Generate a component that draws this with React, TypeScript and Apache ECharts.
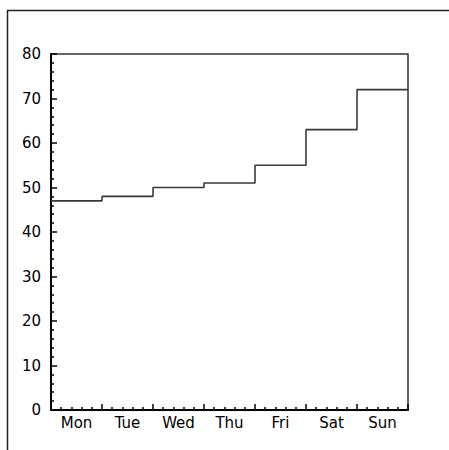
import React, { useEffect, useRef } from "react";
import * as echarts from "echarts";

const categories = ["Mon", "Tue", "Wed", "Thu", "Fri", "Sat", "Sun"];
const values = [47, 48, 50, 51, 55, 63, 72];
const yMin = 0;
const yMax = 80;
const yStep = 10;

export default function App() {
  const ref = useRef<HTMLDivElement>(null);
  useEffect(() => {
    if (!ref.current) return;
    const chart = echarts.init(ref.current, null, { renderer: "svg" });
    const stepData: [number, number][] = values.map((v, i) => [i, v]);
    stepData.push([values.length, values[values.length - 1]]);
    const font = "DejaVu Sans";
    chart.setOption({
      animation: false,
      backgroundColor: "#ffffff",
      grid: {
        left: 51,
        right: 41,
        top: 54,
        bottom: 40,
        show: true,
        borderColor: "#333",
        borderWidth: 1.5,
        backgroundColor: "transparent",
      },
      graphic: [
        {
          type: "line",
          shape: { x1: 7.5, y1: 10, x2: 7.5, y2: 450 },
          style: { stroke: "#222", lineWidth: 1.5 },
        },
        {
          type: "line",
          shape: { x1: 7, y1: 10.5, x2: 449, y2: 10.5 },
          style: { stroke: "#222", lineWidth: 1.5 },
        },
      ],
      xAxis: [
        {
          type: "category",
          data: categories,
          boundaryGap: true,
          position: "bottom",
          axisLine: { show: true, lineStyle: { color: "#000", width: 2 } },
          axisTick: { show: false },
          axisLabel: {
            color: "#000",
            fontFamily: font,
            fontSize: 15,
            margin: 5,
          },
          splitLine: { show: false },
        },
        {
          type: "value",
          min: 0,
          max: categories.length,
          interval: 1,
          position: "bottom",
          axisLine: { show: false },
          axisLabel: { show: false },
          axisTick: { show: true, inside: true, length: 6, lineStyle: { color: "#000", width: 1.5 } },
          minorTick: { show: true, splitNumber: 5, length: 3, lineStyle: { color: "#000", width: 1.5 } },
          splitLine: { show: false },
          minorSplitLine: { show: false },
        },
      ],
      yAxis: {
        type: "value",
        min: yMin,
        max: yMax,
        interval: yStep,
        axisLine: { show: true, lineStyle: { color: "#000", width: 2 } },
        axisTick: { show: true, inside: true, length: 6, lineStyle: { color: "#000", width: 1.5 } },
        minorTick: { show: true, splitNumber: 5, length: 3, lineStyle: { color: "#000", width: 1.5 } },
        axisLabel: {
          color: "#000",
          fontFamily: font,
          fontSize: 15,
          margin: 10,
        },
        splitLine: { show: false },
        minorSplitLine: { show: false },
      },
      series: [
        {
          type: "line",
          xAxisIndex: 1,
          data: stepData,
          step: "end",
          showSymbol: false,
          symbol: "none",
          lineStyle: { color: "#3a3a3a", width: 1.6 },
        },
      ],
    });
    return () => chart.dispose();
  }, []);
  return (
    <div
      ref={ref}
      style={{ position: "fixed", left: 0, top: 0, width: 449, height: 450, background: "#fff" }}
    />
  );
}
